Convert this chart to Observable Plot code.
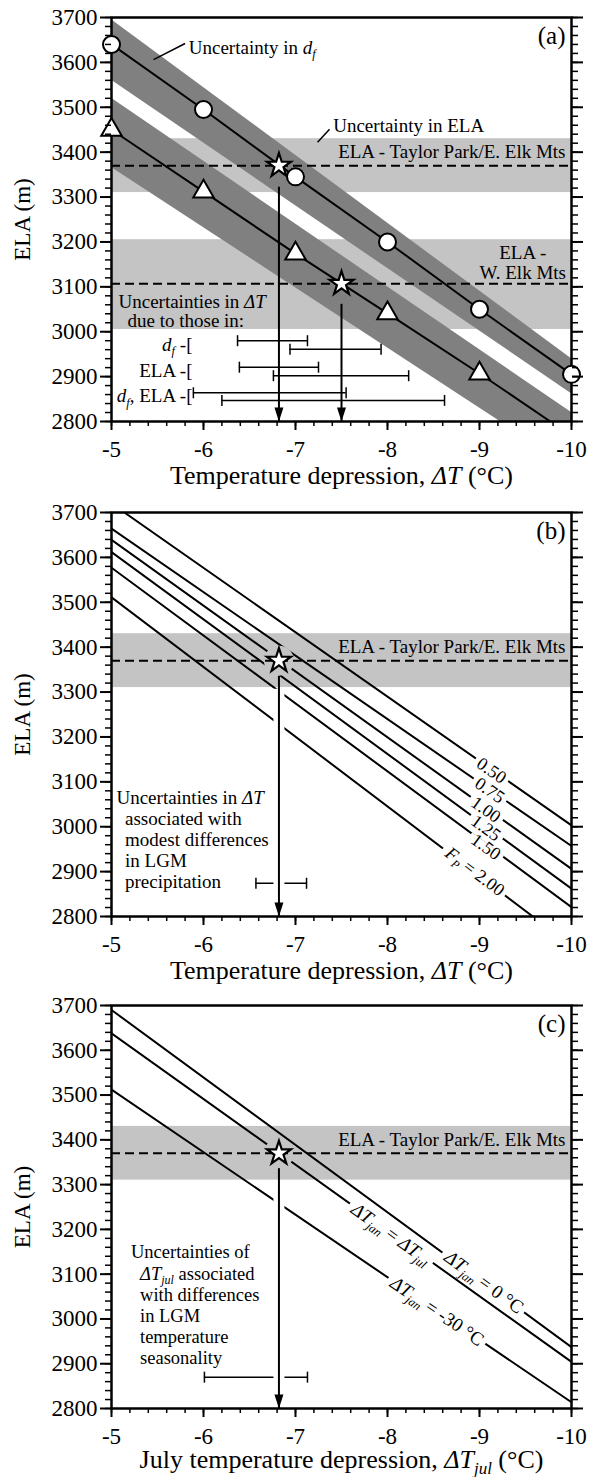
<!DOCTYPE html>
<html><head><meta charset="utf-8">
<script src="https://cdn.jsdelivr.net/npm/d3@7"></script>
<script src="https://cdn.jsdelivr.net/npm/@observablehq/plot@0.6"></script>
<style>
html,body{margin:0;padding:0;background:#fff;}
#chart svg{display:block;}
</style></head><body><div id="chart"></div>
<script>
// ---------------- data ----------------
const tempTicks = [-5, -6, -7, -8, -9, -10];
const elaTicks = [2800, 2900, 3000, 3100, 3200, 3300, 3400, 3500, 3600, 3700];

// panel (a)
const circleT = [-5, -6, -7, -8, -9, -10];
const circleELA = [3640, 3495, 3345, 3200, 3050, 2905];
const triT = [-5, -6, -7, -8, -9];
const triELA = [3450, 3312, 3174, 3041, 2907];
const triLineEndT = -9.77, triLineEndELA = 2800;
const bandT = [-5, -10];
const upperBandLo = [3560, 2862], upperBandHi = [3695, 2940];
const lowerBandLo = [3366, 2696], lowerBandHi = [3520, 2820];
const elaBandLoA = [3310, 3005], elaBandHiA = [3430, 3205], elaBestA = [3370, 3107];
const starT_A = [-6.82, -7.5], starELA_A = [3370, 3107], arrowTopA = [3322, 3061];
const errLoA = [-6.37, -6.94, -6.39, -6.76, -5.89, -6.20];
const errHiA = [-7.13, -7.93, -7.25, -8.23, -7.55, -8.62];
const errELA_A = [2980, 2961, 2921, 2902, 2864, 2847];
const errGroupLabels = ["{i:d}{si:f} -[", "ELA -[", "{i:d}{si:f}, ELA -["];
const errGroupELA = [2971, 2912, 2856];

// panel (b)
const fpLabels = ["0.50", "0.75", "1.00", "1.25", "1.50", "{i:F}{si:P} = 2.00"];
const fpStartT = [-5.14, -5, -5, -5, -5, -5];
const fpStartELA = [3700, 3664, 3639, 3612, 3577, 3511];
const fpEndT = [-10, -10, -10, -10, -10, -9.58];
const fpEndELA = [3003, 2957, 2906, 2862, 2821, 2800];
const fpLabelT = [-9.13, -9.11, -9.07, -9.07, -9.07, -8.95];
const fpLabelELA = [3125, 3081, 3038, 2997, 2955, 2900];
const starB = {t: -6.82, ela: 3370}, arrowTopB = 3335;
const errB = {lo: -6.57, hi: -7.12, ela: 2874};

// panel (c)
const seasonLabels = ["{i:ΔT}{si:jan} = 0 °C", "{i:ΔT}{si:jan} = {i:ΔT}{si:jul}", "{i:ΔT}{si:jan} = -30 °C"];
const seasonStartELA = [3690, 3638, 3512];
const seasonEndELA = [2937, 2904, 2814];
const seasonLabelT = [-9.05, -8.04, -8.54];
const seasonLabelELA = [3082, 3190, 3017];
const starC = {t: -6.82, ela: 3370}, arrowTopC = 3336;
const errC = {lo: -6.01, hi: -7.13, ela: 2870};
const elaBandTaylor = [3310, 3430], elaTaylor = 3370;

// ---------------- styling helpers ----------------
const LIGHT = "#c4c4c4", DARK = "#808080";
const FONT = "'Liberation Serif', 'Times New Roman', Times, serif";
const minorT = d3.range(-5, -10.001, -0.2);
const minorE = d3.range(2800, 3701, 20);
const arrowHead = {draw(ctx) { ctx.moveTo(0, 0); ctx.lineTo(-4.5, -14); ctx.lineTo(4.5, -14); ctx.closePath(); }};
const vbar = {draw(ctx) { ctx.moveTo(0, -5.5); ctx.lineTo(0, 5.5); }};
const pxPerDeg = 460 / 5, pxPerM = 404 / 900;
const angleOf = (t0, e0, t1, e1) => Math.atan2((e0 - e1) * pxPerM, Math.abs(t1 - t0) * pxPerDeg) * 180 / Math.PI;

function axisMarks(xLabel, tag, titleDy) {
  return [
    Plot.axisX(minorT, {tickSize: 5, tickFormat: () => "", strokeWidth: 1.5, label: null}),
    Plot.axisX(tempTicks, {tickSize: 9, tickPadding: 10, tickFormat: d => String(d), fontSize: 23, strokeWidth: 2, label: null}),
    Plot.axisY(minorE, {tickSize: 6, tickFormat: () => "", strokeWidth: 1.5, label: null}),
    Plot.axisY(elaTicks, {tickSize: 11, tickPadding: 3, tickFormat: d => String(d), fontSize: 23, strokeWidth: 2, label: "ELA (m)", labelAnchor: "center", labelOffset: 98, labelArrow: "none"}),
    Plot.axisY(minorE, {anchor: "right", tickSize: 6, tickFormat: () => "", strokeWidth: 1.5, label: null}),
    Plot.axisY(elaTicks, {anchor: "right", tickSize: 11, tickFormat: () => "", strokeWidth: 2, label: null}),
    Plot.text([xLabel], {frameAnchor: "bottom", dy: titleDy, lineAnchor: "middle", fontSize: 26}),
    Plot.text([tag], {frameAnchor: "top-right", dx: -6, dy: 9, lineAnchor: "top", fontSize: 25})
  ];
}
const frame = () => Plot.frame({strokeWidth: 2.5});

function panel(height, marginTop, marginBottom, marks, xLabel, tag, titleDy = 54) {
  return Plot.plot({
    width: 590, height, marginLeft: 111, marginRight: 19, marginTop, marginBottom,
    style: {fontFamily: FONT, fontSize: "19px", color: "black", background: "white", overflow: "visible"},
    x: {domain: [-5, -10]},
    y: {domain: [2800, 3700]},
    marks: [...marks, ...axisMarks(xLabel, tag, titleDy)]
  });
}

// mini markup: {i:..} italic, {s:..} subscript, {si:..} italic subscript, leading {k} = knock a gap in the curve beneath
function richify(svg) {
  const NS = "http://www.w3.org/2000/svg";
  const els = [...svg.querySelectorAll("text, tspan")].filter(el => el.childElementCount === 0 && el.textContent.includes("{"));
  for (const el of els) {
    let s = el.textContent;
    if (s.startsWith("{k}")) { el.setAttribute("data-knockout", "1"); s = s.slice(3); }
    const parts = [];
    const re = /\{(i|s|si):([^}]*)\}/g;
    let last = 0, m;
    while ((m = re.exec(s))) {
      if (m.index > last) parts.push({t: s.slice(last, m.index), k: ""});
      parts.push({t: m[2], k: m[1]});
      last = re.lastIndex;
    }
    if (last < s.length) parts.push({t: s.slice(last), k: ""});
    el.textContent = "";
    let prevSub = false;
    for (const p of parts) {
      const ts = document.createElementNS(NS, "tspan");
      ts.textContent = p.t;
      const sub = p.k === "s" || p.k === "si";
      if (p.k === "i" || p.k === "si") ts.setAttribute("font-style", "italic");
      if (sub) { ts.setAttribute("font-size", "65%"); ts.setAttribute("dy", "0.35em"); }
      else if (prevSub) ts.setAttribute("dy", "-0.2275em");
      prevSub = sub;
      el.appendChild(ts);
    }
  }
  return svg;
}

function knockout(svg) {
  const NS = "http://www.w3.org/2000/svg";
  svg.querySelectorAll('text[data-knockout]').forEach(t => {
    const b = t.getBBox(), pad = 4;
    const r = document.createElementNS(NS, "rect");
    r.setAttribute("x", b.x - pad);
    r.setAttribute("y", -3.5);
    r.setAttribute("width", b.width + 2 * pad);
    r.setAttribute("height", 7);
    r.setAttribute("fill", "white");
    r.setAttribute("stroke", "none");
    const tr = t.getAttribute("transform");
    if (tr) r.setAttribute("transform", tr);
    t.parentNode.insertBefore(r, t);
  });
}

const xTitle = "Temperature depression, {i:ΔT} (°C)";

// ---------------- panel (a) ----------------
const circles = circleT.map((t, i) => ({t, ela: circleELA[i]}));
const tris = triT.map((t, i) => ({t, ela: triELA[i]}));
const triLine = [...tris, {t: triLineEndT, ela: triLineEndELA}];
const upperBand = bandT.map((t, i) => ({t, lo: upperBandLo[i], hi: upperBandHi[i]}));
const lowerBand = bandT.map((t, i) => ({t, lo: lowerBandLo[i], hi: lowerBandHi[i]}));
const elaBandsA = elaBandLoA.map((lo, i) => ({lo, hi: elaBandHiA[i]}));
const starsA = starT_A.map((t, i) => ({t, ela: starELA_A[i], top: arrowTopA[i], bottom: 2800}));
const errA = errLoA.map((lo, i) => ({lo, hi: errHiA[i], ela: errELA_A[i]}));
const errGroups = errGroupLabels.map((label, i) => ({label, ela: errGroupELA[i]}));

const marksA = [
  Plot.rect(elaBandsA, {y1: "lo", y2: "hi", fill: LIGHT}),
  Plot.areaY(upperBand, {x: "t", y1: "lo", y2: "hi", fill: DARK, clip: true}),
  Plot.areaY(lowerBand, {x: "t", y1: "lo", y2: "hi", fill: DARK, clip: true}),
  Plot.ruleY(elaBestA, {strokeDasharray: "9,5", strokeWidth: 2}),
  Plot.line(circles, {x: "t", y: "ela", strokeWidth: 2, clip: true}),
  Plot.line(triLine, {x: "t", y: "ela", strokeWidth: 2, clip: true}),
  frame(),
  Plot.dot(circles, {x: "t", y: "ela", r: 8.5, fill: "white", stroke: "black", strokeWidth: 2}),
  Plot.dot(tris, {x: "t", y: "ela", symbol: "triangle", r: 7.6, fill: "white", stroke: "black", strokeWidth: 2}),
  Plot.ruleY(errA, {y: "ela", x1: "lo", x2: "hi", strokeWidth: 1.5}),
  Plot.dot(errA, {x: "lo", y: "ela", symbol: vbar, stroke: "black", strokeWidth: 1.5}),
  Plot.dot(errA, {x: "hi", y: "ela", symbol: vbar, stroke: "black", strokeWidth: 1.5}),
  Plot.ruleX(starsA, {x: "t", y1: "top", y2: "bottom", strokeWidth: 2}),
  Plot.dot(starsA, {x: "t", y: "bottom", symbol: arrowHead, fill: "black", stroke: "none"}),
  Plot.dot(starsA, {x: "t", y: "ela", symbol: "star", r: 7.5, fill: "white", stroke: "black", strokeWidth: 2.2}),
  Plot.text(errGroups, {x: () => -5.88, y: "ela", text: "label", textAnchor: "end", fontSize: 19}),
  Plot.link([{x1: -5.457, y1: 3606, x2: -5.80, y2: 3642}, {x1: -7.24, y1: 3422, x2: -7.37, y2: 3451}], {x1: "x1", y1: "y1", x2: "x2", y2: "y2", strokeWidth: 1.5}),
  Plot.text([{x: -5.84, y: 3633, s: "Uncertainty in {i:d}{si:f}"}, {x: -7.41, y: 3459, s: "Uncertainty in ELA"},
             {x: -5.076, y: 3066, s: "Uncertainties in {i:ΔT}"}, {x: -5.174, y: 3025, s: "due to those in:"}],
            {x: "x", y: "y", text: "s", textAnchor: "start", fontSize: 19}),
  Plot.text([{x: -10, y: 3400, s: "ELA - Taylor Park/E. Elk Mts"}], {x: "x", y: "y", text: "s", textAnchor: "end", dx: -6, fontSize: 19}),
  Plot.text([{x: -9.47, y: 3154, s: "ELA -\nW. Elk Mts"}], {x: "x", y: "y", text: "s", textAnchor: "middle", lineHeight: 1.05, fontSize: 19})
];

// ---------------- panel (b) ----------------
const fpLines = fpLabels.flatMap((label, i) => [
  {id: i, t: fpStartT[i], ela: fpStartELA[i]},
  {id: i, t: fpEndT[i], ela: fpEndELA[i]}
]);
const fpText = fpLabels.map((label, i) => ({label: "{k}" + label, t: fpLabelT[i], ela: fpLabelELA[i],
  angle: angleOf(fpStartT[i], fpStartELA[i], fpEndT[i], fpEndELA[i])}));

function starArrowMarks(star, top, err) {
  const arrow = [{t: star.t, top, bottom: 2800, haloTop: 3306}];
  return [
    Plot.ruleY([err], {y: "ela", x1: "lo", x2: "hi", strokeWidth: 1.5}),
    Plot.dot([err], {x: "lo", y: "ela", symbol: vbar, stroke: "black", strokeWidth: 1.5}),
    Plot.dot([err], {x: "hi", y: "ela", symbol: vbar, stroke: "black", strokeWidth: 1.5}),
    Plot.ruleX(arrow, {x: "t", y1: "haloTop", y2: "bottom", stroke: "white", strokeWidth: 11}),
    Plot.ruleX(arrow, {x: "t", y1: "top", y2: "bottom", strokeWidth: 2}),
    Plot.dot([star], {x: "t", y: "ela", r: 15, fill: LIGHT, stroke: "none"}),
    Plot.ruleY([elaTaylor], {strokeDasharray: "9,5", strokeWidth: 2}),
    frame(),
    Plot.dot(arrow, {x: "t", y: "bottom", symbol: arrowHead, fill: "black", stroke: "none"}),
    Plot.dot([star], {x: "t", y: "ela", symbol: "star", r: 7.5, fill: "white", stroke: "black", strokeWidth: 2.2}),
    Plot.text([{x: -10, y: 3400, s: "ELA - Taylor Park/E. Elk Mts"}], {x: "x", y: "y", text: "s", textAnchor: "end", dx: -6, fontSize: 19})
  ];
}

const marksB = [
  Plot.rect([{lo: elaBandTaylor[0], hi: elaBandTaylor[1]}], {y1: "lo", y2: "hi", fill: LIGHT}),
  Plot.line(fpLines, {x: "t", y: "ela", z: "id", strokeWidth: 2, clip: true}),
  Plot.text(fpText, {x: "t", y: "ela", text: "label", rotate: "angle", fontSize: 18, fill: "black"}),
  ...starArrowMarks(starB, arrowTopB, errB),
  Plot.text([{x: -5.054, y: 3065, s: "Uncertainties in {i:ΔT}"}], {x: "x", y: "y", text: "s", textAnchor: "start", fontSize: 19}),
  Plot.text([{x: -5.147, y: 2948, s: "associated with\nmodest differences\nin LGM\nprecipitation"}], {x: "x", y: "y", text: "s", textAnchor: "start", lineHeight: 1.105, fontSize: 19})
];

// ---------------- panel (c) ----------------
const seasonLines = seasonLabels.flatMap((label, i) => [
  {id: i, t: -5, ela: seasonStartELA[i]},
  {id: i, t: -10, ela: seasonEndELA[i]}
]);
const seasonText = seasonLabels.map((label, i) => ({label: "{k}" + label, t: seasonLabelT[i], ela: seasonLabelELA[i],
  angle: angleOf(-5, seasonStartELA[i], -10, seasonEndELA[i])}));

const marksC = [
  Plot.rect([{lo: elaBandTaylor[0], hi: elaBandTaylor[1]}], {y1: "lo", y2: "hi", fill: LIGHT}),
  Plot.line(seasonLines, {x: "t", y: "ela", z: "id", strokeWidth: 2, clip: true}),
  Plot.text(seasonText, {x: "t", y: "ela", text: "label", rotate: "angle", fontSize: 19, fill: "black"}),
  ...starArrowMarks(starC, arrowTopC, errC),
  Plot.text([{x: -5.212, y: 3149, s: "Uncertainties of"}], {x: "x", y: "y", text: "s", textAnchor: "start", fontSize: 18.5}),
  Plot.text([{x: -5.31, y: 3008, s: "{i:ΔT}{si:jul} associated\nwith differences\nin LGM\ntemperature\nseasonality"}], {x: "x", y: "y", text: "s", textAnchor: "start", lineHeight: 1.13, fontSize: 18.5})
];

const chart = document.getElementById("chart");
const svgs = [
  richify(panel(495, 17, 74, marksA, xTitle, "(a)")),
  richify(panel(495, 17, 74, marksB, xTitle, "(b)")),
  richify(panel(487, 15, 69, marksC, "July temperature depression, {i:ΔT}{si:jul} (°C)", "(c)", 51))
];
svgs.forEach(s => chart.appendChild(s));
svgs.forEach(knockout);
</script></body></html>
